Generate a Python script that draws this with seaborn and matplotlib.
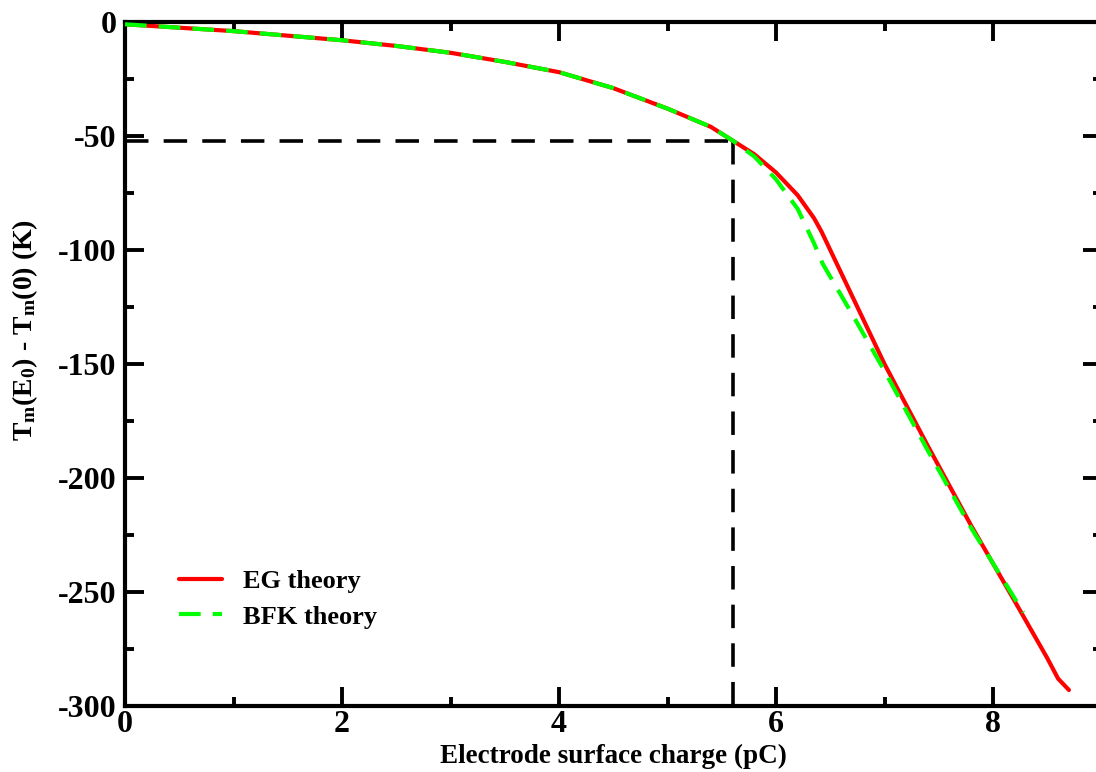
import numpy as np
import pandas as pd
import matplotlib
matplotlib.use("Agg")
import matplotlib.pyplot as plt
from matplotlib.ticker import MultipleLocator
import seaborn as sns

# EG theory (red, solid)
q_eg = [0.0, 0.5, 1.0, 1.5, 2.0, 2.5, 3.0, 3.5, 4.0, 4.5, 5.0, 5.4, 5.6, 5.8,
        6.0, 6.2, 6.35, 6.42, 6.7, 7.0, 7.4, 7.8, 8.2, 8.5, 8.6, 8.7]
t_eg = [-1, -2.5, -4, -6, -8, -10.5, -13.5, -17.5, -22, -29, -38, -46, -52, -58,
        -66, -76, -86, -92, -120, -150, -186, -221, -254, -279, -288, -293]

# BFK theory (green, dashed)
q_bfk = [0.0, 0.5, 1.0, 1.5, 2.0, 2.5, 3.0, 3.5, 4.0, 4.5, 5.0, 5.4, 5.6, 5.8,
         6.0, 6.2, 6.35, 6.43, 6.7, 7.0, 7.4, 7.8, 8.28]
t_bfk = [-1, -2.5, -4, -6, -8, -10.5, -13.5, -17.5, -22, -29, -38, -46, -52, -59,
         -69, -82, -97, -106, -128, -153, -188, -222, -259]

# guide point
q_guide = 5.6
t_guide = -52

sns.set_style("ticks")
plt.rcParams['font.family'] = ['Liberation Serif', 'DejaVu Serif']
plt.rcParams['font.weight'] = 'bold'
plt.rcParams['text.color'] = 'black'
plt.rcParams['axes.labelcolor'] = 'black'
plt.rcParams['xtick.color'] = 'black'
plt.rcParams['ytick.color'] = 'black'
plt.rcParams['axes.edgecolor'] = 'black'
plt.rcParams['axes.unicode_minus'] = False
plt.rcParams['mathtext.fontset'] = 'custom'
plt.rcParams['mathtext.rm'] = 'Liberation Serif:bold'
plt.rcParams['mathtext.bf'] = 'Liberation Serif:bold'
plt.rcParams['mathtext.it'] = 'Liberation Serif:bold'

fig = plt.figure(figsize=(10.96, 7.72), dpi=100)
ax = fig.add_axes([125 / 1096, 66 / 772, 976.5 / 1096, 684 / 772])

eg = pd.DataFrame({'q': q_eg, 't': t_eg})
bfk = pd.DataFrame({'q': q_bfk, 't': t_bfk})

# dashed guide lines
ax.plot([0, q_guide], [t_guide, t_guide], color='black', lw=2.6,
        linestyle=(0, (6.5, 4.2)), zorder=1)
ax.plot([q_guide, q_guide], [t_guide, -300], color='black', lw=2.6,
        linestyle=(0, (6.5, 4.2)), zorder=1)

sns.lineplot(data=eg, x='q', y='t', color='#ff0000', lw=3, label='EG theory', ax=ax, zorder=2)
sns.lineplot(data=bfk, x='q', y='t', color='#00ff00', lw=3, label='BFK theory',
             linestyle=(0, (5.2, 2.9)), ax=ax, zorder=3)

ax.set_xlim(0, 9)
ax.set_ylim(-300, 0)
ax.xaxis.set_major_locator(MultipleLocator(2))
ax.xaxis.set_minor_locator(MultipleLocator(1))
ax.yaxis.set_major_locator(MultipleLocator(50))
ax.yaxis.set_minor_locator(MultipleLocator(25))

for s in ax.spines.values():
    s.set_linewidth(3)
    s.set_visible(True)
ax.tick_params(which='both', direction='in', top=True, right=True, width=2.8)
ax.tick_params(which='major', length=13.5)
ax.tick_params(which='minor', length=6.5)
ax.tick_params(axis='x', which='major', pad=3, labelsize=23)
ax.tick_params(axis='y', which='major', pad=6, labelsize=23)
for lab in ax.get_xticklabels() + ax.get_yticklabels():
    lab.set_fontweight('bold')

ax.set_xlabel('Electrode surface charge (pC)', fontsize=19.5, fontweight='bold')
ax.xaxis.set_label_coords(0.5, -0.056)
ax.set_ylabel(r'T$_{\rm m}$(E$_{\rm 0}$) - T$_{\rm m}$(0) (K)', fontsize=20, fontweight='bold')
ax.yaxis.set_label_coords(-0.087, 0.55)

leg = ax.legend(loc='upper left', bbox_to_anchor=(0.055, 0.199), frameon=False,
                fontsize=19, handlelength=1.65, handletextpad=0.8, labelspacing=0.45,
                borderpad=0, borderaxespad=0)
for t in leg.get_texts():
    t.set_fontweight('bold')

fig.savefig('out.png', dpi=100)
